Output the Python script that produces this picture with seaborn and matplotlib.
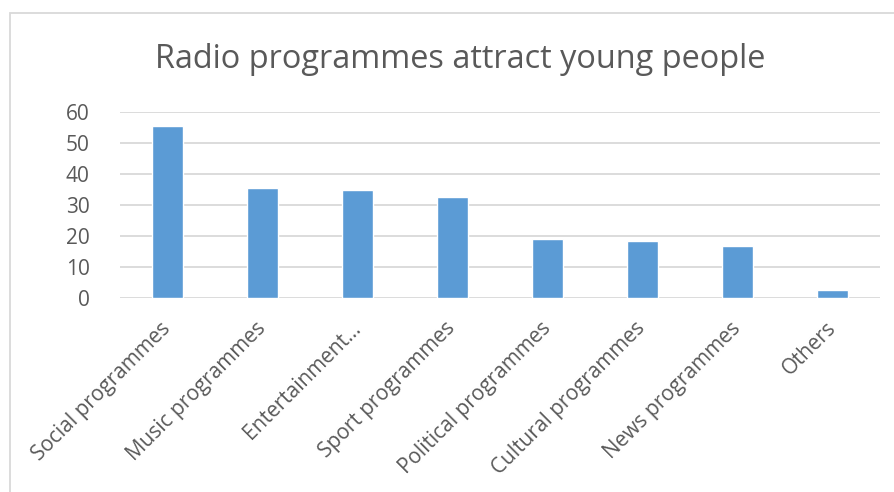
import matplotlib
matplotlib.use("Agg")
import matplotlib.pyplot as plt
from matplotlib.patches import Rectangle
import seaborn as sns

# Share of young people attracted by each type of radio programme
categories = [
    "Social programmes",
    "Music programmes",
    "Entertainment…",
    "Sport programmes",
    "Political programmes",
    "Cultural programmes",
    "News programmes",
    "Others",
]
values = [55.5, 35.3, 34.7, 32.4, 18.9, 18.3, 16.7, 2.5]
y_ticks = [0, 10, 20, 30, 40, 50, 60]
title = "Radio programmes attract young people"

BAR = "#5B9BD5"
GRID = "#D9D9D9"
TEXT = "#595959"

sns.set_theme(style="white")
plt.rcParams["font.family"] = ["Open Sans", "DejaVu Sans"]

W, H = 895, 492
fig = plt.figure(figsize=(W / 100, H / 100), dpi=100)
ax = fig.add_axes([120 / W, 1 - 297.7 / H, 760 / W, (297.7 - 111.7) / H])

sns.barplot(x=categories, y=values, color=BAR, width=0.316, saturation=1,
            ax=ax, zorder=3)

ax.set_xlim(-0.5, len(categories) - 0.5)
ax.set_ylim(0, 60)
ax.set_yticks(y_ticks)
ax.set_yticklabels([str(t) for t in y_ticks])
ax.yaxis.grid(True, color=GRID, linewidth=1.3, zorder=0)
ax.xaxis.grid(False)
for s in ax.spines.values():
    s.set_visible(False)
ax.set_xlabel("")
ax.set_ylabel("")
ax.tick_params(axis="y", length=0, pad=22, labelsize=15, labelcolor=TEXT)
ax.tick_params(axis="x", length=0, pad=20, labelsize=15, labelcolor=TEXT)
for lbl in ax.get_xticklabels():
    lbl.set_rotation(45)
    lbl.set_rotation_mode("anchor")
    lbl.set_ha("right")
    lbl.set_va("center")

fig.text(460 / W, 1 - 68 / H, title, ha="center", va="baseline",
         fontsize=23.4, color=TEXT)

# Chart frame
fig.add_artist(Rectangle((10 / W, -0.2), 1.2, 1.2 - 12.5 / H,
                         transform=fig.transFigure, fill=False,
                         edgecolor=GRID, linewidth=1.3))

fig.savefig("out.png", dpi=100, facecolor="white")
